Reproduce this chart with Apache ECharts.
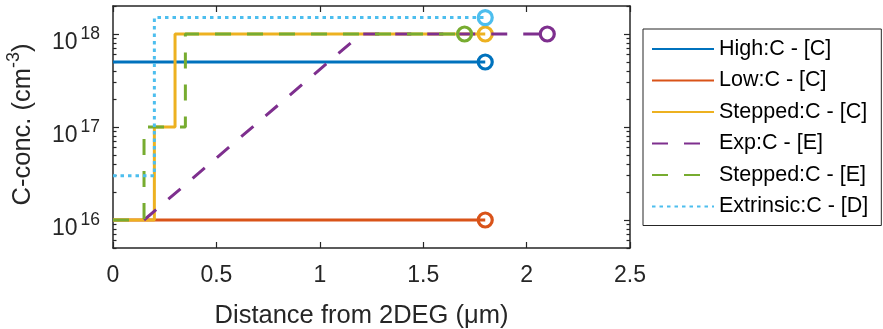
<!DOCTYPE html>
<html>
<head>
<meta charset="utf-8">
<script src="https://cdn.jsdelivr.net/npm/echarts@6/dist/echarts.min.js"></script>
<style>
  html, body { margin: 0; padding: 0; background: #fff; }
  #chart { width: 883px; height: 329px; }
</style>
</head>
<body>
<div id="chart"></div>
<script>
// values
const xTicks = [0, 0.5, 1, 1.5, 2, 2.5]
const yMajor = [1e16, 1e17, 1e18]
const yMin = 5e15, yMax = 2e18

const names = ['High:C - [C]', 'Low:C - [C]', 'Stepped:C - [C]', 'Exp:C - [E]', 'Stepped:C - [E]', 'Extrinsic:C - [D]']
const colors = ['#0072BD', '#D95319', '#EDB120', '#7E2F8E', '#77AC30', '#4DBEEE']

const highX = [0, 1.8]
const highY = [5e17, 5e17]
const lowX = [0, 1.8]
const lowY = [1e16, 1e16]
const stepCX = [0, 0.2, 0.2, 0.3, 0.3, 1.8]
const stepCY = [1e16, 1e16, 1e17, 1e17, 1e18, 1e18]
const expX = [0.15, 1.2, 2.1]
const expY = [1e16, 1e18, 1e18]
const stepEX = [0, 0.15, 0.15, 0.35, 0.35, 1.7]
const stepEY = [1e16, 1e16, 1e17, 1e17, 1e18, 1e18]
const extX = [0, 0.2, 0.2, 1.8]
const extY = [3e16, 3e16, 1.5e18, 1.5e18]

const font = "'Liberation Sans', Arial, Helvetica, sans-serif"
const ink = '#262626'
const lg = Math.log10

// minor ticks of the log axis
let yMinor = []
for (let d = 15; d <= 18; d++) {
  for (let k = 2; k <= 9; k++) {
    const v = k * Math.pow(10, d)
    if (v >= yMin && v <= yMax) yMinor.push(lg(v))
  }
}

function makeData(xs, ys, color) {
  return xs.map((x, i) => {
    const p = [x, lg(ys[i])]
    if (i < xs.length - 1) return p
    return {                                     // end marker, like MATLAB 'o'
      value: p,
      symbol: 'circle',
      symbolSize: 14,
      itemStyle: { color: 'rgba(0,0,0,0)', borderColor: color, borderWidth: 3.2 }
    }
  })
}

function line(i, xs, ys, type) {
  return {
    name: names[i],
    type: 'line',
    data: makeData(xs, ys, colors[i]),
    symbol: 'none',
    showSymbol: true,
    color: colors[i],
    lineStyle: { color: colors[i], width: 3, type: type, cap: 'butt' },
    emphasis: { disabled: true },
    z: 2 + i
  }
}

const tickRich = {
  b: { fontSize: 23, lineHeight: 36, fontFamily: font, color: ink },
  s: { fontSize: 17.5, lineHeight: 17.5, verticalAlign: 'top', padding: [0, 0, 0, 3], fontFamily: font, color: ink }
}
const nameRich = {
  b: { fontSize: 25.5, lineHeight: 36, fontFamily: font, color: ink },
  s: { fontSize: 18, lineHeight: 18, verticalAlign: 'top', fontFamily: font, color: ink }
}

function yAxisOf(pos, ticks, len, labels) {
  return {
    type: 'value',
    position: pos,
    min: lg(yMin),
    max: lg(yMax),
    axisLine: { show: labels, lineStyle: { color: ink, width: 1.5 } },
    splitLine: { show: false },
    axisTick: { show: true, inside: true, length: len, customValues: ticks, lineStyle: { color: ink, width: 1.2 } },
    axisLabel: labels ? {
      show: true,
      customValues: yMajor.map(lg),
      margin: 13,
      padding: [18, 0, 0, 0],
      formatter: v => '{b|10}{s|' + Math.round(v) + '}',
      rich: tickRich
    } : { show: false }
  }
}

const chart = echarts.init(document.getElementById('chart'), null, { renderer: 'canvas' })

chart.setOption({
  animation: false,
  backgroundColor: '#fff',
  grid: { left: 113, right: 253, top: 6, bottom: 81, containLabel: false, outerBoundsMode: 'none' },
  legend: {
    orient: 'vertical',
    left: 643,
    top: 29,
    padding: [9, 13, 8, 8],
    itemWidth: 62,
    itemHeight: 14,
    itemGap: 9.5,
    itemTextGap: 7,
    borderColor: ink,
    borderWidth: 1,
    backgroundColor: '#fff',
    data: names,
    itemStyle: { opacity: 0 },
    textStyle: { fontFamily: font, fontSize: 21.5, lineHeight: 22, color: '#000' }
  },
  xAxis: [
    {
      type: 'value',
      position: 'bottom',
      min: 0, max: 2.5, interval: 0.5,
      axisLine: { lineStyle: { color: ink, width: 1.5 } },
      axisTick: { inside: true, length: 6, lineStyle: { color: ink, width: 1.2 } },
      splitLine: { show: false },
      axisLabel: { fontFamily: font, fontSize: 23, lineHeight: 23, color: ink, margin: 16.5,
        customValues: xTicks, formatter: v => String(v) },
      name: 'Distance from 2DEG (μm)',
      nameLocation: 'middle',
      nameGap: 55,
      nameTextStyle: { fontFamily: font, fontSize: 25.5, lineHeight: 25, color: ink, padding: [0, 20, 0, 0] }
    },
    {
      type: 'value',
      position: 'top',
      min: 0, max: 2.5, interval: 0.5,
      axisLine: { lineStyle: { color: ink, width: 1.5 } },
      axisTick: { inside: true, length: 6, lineStyle: { color: ink, width: 1.2 } },
      splitLine: { show: false },
      axisLabel: { show: false }
    }
  ],
  yAxis: [
    Object.assign(yAxisOf('left', yMajor.map(lg), 6, true), {
      name: '{b|C-conc. (cm}{s|-3}{b|)}',
      nameLocation: 'middle',
      nameRotate: 90,
      nameGap: 72,
      nameTextStyle: { rich: nameRich, fontSize: 25.5, lineHeight: 36, fontFamily: font, color: ink, padding: [0, 0, 0, 5] }
    }),
    yAxisOf('left', yMinor, 3.5, false),
    Object.assign(yAxisOf('right', yMajor.map(lg), 6, false), { axisLine: { show: true, lineStyle: { color: ink, width: 1.5 } } }),
    yAxisOf('right', yMinor, 3.5, false)
  ],
  series: [
    line(0, highX, highY, 'solid'),
    line(1, lowX, lowY, 'solid'),
    line(2, stepCX, stepCY, 'solid'),
    line(3, expX, expY, [16, 16]),
    line(4, stepEX, stepEY, [16, 16]),
    line(5, extX, extY, [3.5, 4])
  ]
})
</script>
</body>
</html>
